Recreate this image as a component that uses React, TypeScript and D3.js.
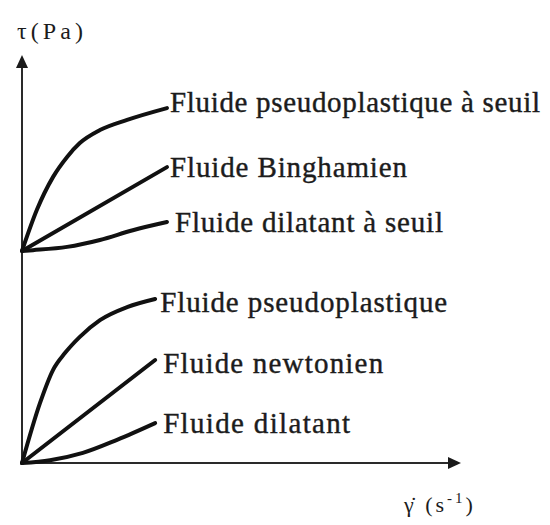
import React from "react";
import * as d3 from "d3";

// Shear rate (s^-1, arbitrary units) and shear stress (Pa, arbitrary units) per fluid type
const rateSeuilPseudo = [0, 0.34, 0.71, 1.03, 1.32, 1.78, 2.4, 3.31];
const stressSeuilPseudo = [5.21, 6.22, 7.03, 7.52, 7.86, 8.18, 8.43, 8.72];

const rateBingham = [0, 3.31];
const stressBingham = [5.21, 7.27];

const rateSeuilDilatant = [0, 0.25, 1.03, 1.78, 2.53, 3.31];
const stressSeuilDilatant = [5.21, 5.23, 5.31, 5.48, 5.72, 5.92];

const ratePseudo = [0, 0.41, 0.71, 0.98, 1.32, 1.78, 2.4, 3.04];
const stressPseudo = [0, 1.47, 2.29, 2.7, 3.1, 3.51, 3.83, 4.03];

const rateNewton = [0, 3.04];
const stressNewton = [0, 2.53];

const rateDilatant = [0, 0.64, 1.39, 2.17, 3.04];
const stressDilatant = [0, 0.07, 0.25, 0.57, 0.98];

const seriesNames = [
  "Fluide pseudoplastique à seuil",
  "Fluide Binghamien",
  "Fluide dilatant à seuil",
  "Fluide pseudoplastique",
  "Fluide newtonien",
  "Fluide dilatant",
];

const yAxisTitle = "τ(Pa)";
const xAxisTitle = "γ̇ (s";
const xAxisUnitExp = "-1";

const rateDomain = [0, 10];
const stressDomain = [0, 10];

// label placement relative to curve end: [dx, dy, textLength]
const labelLayout: [number, number, number][] = [
  [3, 4, 370],
  [3, 10, 237],
  [8, 10, 268],
  [5, 13, 287],
  [8, 13, 220],
  [8, 10, 187],
];

const serif = "Liberation Serif";

export default function App() {
  const width = 550;
  const height = 525;
  const x = d3.scaleLinear().domain(rateDomain).range([22, 460]);
  const y = d3.scaleLinear().domain(stressDomain).range([463, 56]);

  const series = [
    [rateSeuilPseudo, stressSeuilPseudo],
    [rateBingham, stressBingham],
    [rateSeuilDilatant, stressSeuilDilatant],
    [ratePseudo, stressPseudo],
    [rateNewton, stressNewton],
    [rateDilatant, stressDilatant],
  ].map(([r, s], i) => ({
    name: seriesNames[i],
    points: r.map((v, j) => [v, s[j]] as [number, number]),
  }));

  const line = d3
    .line<[number, number]>()
    .x((d) => x(d[0]))
    .y((d) => y(d[1]))
    .curve(d3.curveMonotoneX);

  const x0 = x(rateDomain[0]);
  const x1 = x(rateDomain[1]);
  const y0 = y(stressDomain[0]);
  const y1 = y(stressDomain[1]);

  const ink = "#1c1c1c";

  return (
    <svg
      width={width}
      height={height}
      style={{ position: "absolute", left: 0, top: 0, background: "#fff" }}
    >
      {/* axes */}
      <line x1={x0} y1={y0} x2={x0} y2={y1 + 8} stroke="#2a2a2a" strokeWidth={2} />
      <line x1={x0} y1={y0} x2={x1 - 8} y2={y0} stroke="#2a2a2a" strokeWidth={2} />
      <path
        d={`M${x0},${y1 - 1} L${x0 - 6},${y1 + 12} L${x0 + 6},${y1 + 12} Z`}
        fill="#1a1a1a"
      />
      <path
        d={`M${x1 + 1},${y0} L${x1 - 12},${y0 - 6} L${x1 - 12},${y0 + 6} Z`}
        fill="#1a1a1a"
      />

      {/* curves */}
      {series.map((s) => (
        <path
          key={s.name}
          d={line(s.points) || ""}
          fill="none"
          stroke="#111"
          strokeWidth={4}
          strokeLinecap="round"
        />
      ))}

      {/* curve labels */}
      {series.map((s, i) => {
        const last = s.points[s.points.length - 1];
        const [dx, dy, len] = labelLayout[i];
        return (
          <text
            key={s.name + "-label"}
            x={x(last[0]) + dx}
            y={y(last[1]) + dy}
            fontSize={29}
            fontFamily={serif}
            fill={ink}
            stroke={ink}
            strokeWidth={0.4}
            textLength={len}
            lengthAdjust="spacing"
          >
            {s.name}
          </text>
        );
      })}

      {/* axis titles */}
      <text
        x={17}
        y={39}
        fontSize={24}
        fontFamily={serif}
        fill={ink}
        textLength={66}
        lengthAdjust="spacing"
      >
        {yAxisTitle}
      </text>
      <text x={404} y={512} fontSize={22} fontFamily={serif} fill={ink} letterSpacing={3}>
        {xAxisTitle}
        <tspan dy={-9} fontSize={15}>
          {xAxisUnitExp}
        </tspan>
        <tspan dy={9}>)</tspan>
      </text>
    </svg>
  );
}
